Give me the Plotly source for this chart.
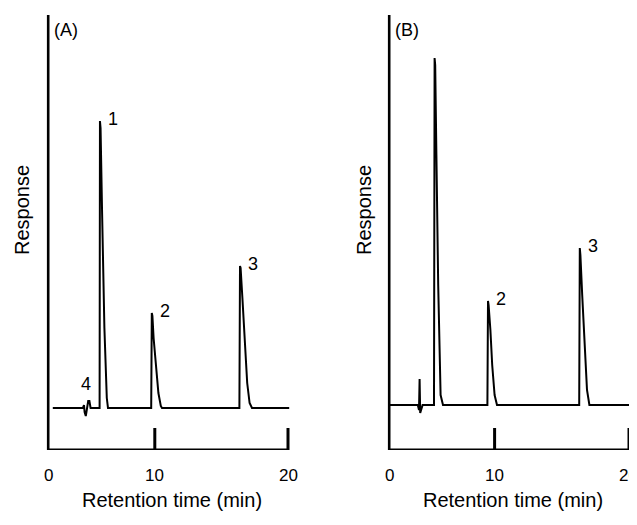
import plotly.graph_objects as go

W, H = 637, 525

# Panel A chromatogram (time in min, response in arbitrary units above baseline)
time_a = [0.4, 2.9, 3.0, 3.05, 3.15, 3.25, 3.35, 3.45, 3.55, 3.65, 3.75,
          4.3, 4.33, 4.38, 4.5, 4.7, 4.9, 5.0,
          8.6, 8.65, 8.7, 8.8, 9.0, 9.2, 9.4, 9.5,
          15.95, 16.0, 16.05, 16.2, 16.4, 16.6, 16.8, 17.0, 20.1]
resp_a = [0, 0, 3, -4, -8, 2, 7, 7, 0, 0, 0,
          0, 287, 280, 200, 80, 10, 0,
          0, 95, 92, 70, 40, 15, 2, 0,
          0, 142, 140, 110, 60, 25, 5, 0, 0]

# Panel B chromatogram
time_b = [0, 2.4, 2.5, 2.55, 2.6, 2.7, 2.8,
          3.75, 3.8, 3.85, 3.95, 4.1, 4.3, 4.5,
          8.2, 8.25, 8.3, 8.45, 8.6, 8.8, 9.0,
          15.85, 15.9, 15.95, 16.1, 16.3, 16.5, 16.7, 20.7]
resp_b = [0, 0, -5, 26, -8, -3, 0,
          0, 347, 340, 250, 120, 10, 0,
          0, 104, 100, 75, 40, 10, 0,
          0, 157, 150, 110, 60, 15, 0, 0]

peak_labels_a = [("1", 4.33, 287), ("2", 8.7, 95), ("3", 16.0, 142), ("4", 2.1, 22)]
peak_labels_b = [("2", 8.25, 104), ("3", 15.9, 157)]
tick_labels = ["0", "10", "20"]
tick_pos_a = [0, 8.9, 20]
tick_pos_b = [0, 8.8, 20]

FONT = "Liberation Sans, Arial, sans-serif"
OFF = 8  # page margin around the figure


def px(x):
    return (x - OFF) / W


def py(y):
    return 1 - (y - OFF) / H


def data_px(t, x0, x20):
    return x0 + (x20 - x0) * t / 20


fig = go.Figure()
fig.add_trace(go.Scatter(x=time_a, y=resp_a, mode="lines", xaxis="x", yaxis="y",
                         line=dict(color="black", width=2), showlegend=False))
fig.add_trace(go.Scatter(x=time_b, y=resp_b, mode="lines", xaxis="x2", yaxis="y2",
                         line=dict(color="black", width=2), showlegend=False))

hidden = dict(showgrid=False, zeroline=False, showticklabels=False, ticks="", showline=False)
fig.update_layout(
    width=W, height=H, margin=dict(l=0, r=0, t=0, b=0),
    plot_bgcolor="white", paper_bgcolor="white",
    font=dict(family=FONT, size=16, color="black"),
    xaxis=dict(range=[-0.1, 20.3], domain=[px(46.8), px(291.6)], **hidden),
    yaxis=dict(range=[-42, 393], domain=[py(450), py(15)], **hidden),
    xaxis2=dict(range=[-0.1, 20.7], domain=[px(387.8), px(637.4)], anchor="y2", **hidden),
    yaxis2=dict(range=[-45, 390], domain=[py(450), py(15)], anchor="x2", **hidden),
)

shapes = []
annots = []
for xr, yr, ybot, ytop, ticks, labels, tag, x0, x20 in [
    ("x", "y", -42, 393, tick_pos_a, peak_labels_a, "(A)", 48, 288),
    ("x2", "y2", -45, 390, tick_pos_b, peak_labels_b, "(B)", 389, 628),
]:
    line = dict(color="black", width=3)
    shapes.append(dict(type="line", xref=xr, yref=yr, x0=0, x1=0, y0=ybot, y1=ytop, line=line))
    shapes.append(dict(type="line", xref=xr, yref=yr, x0=0, x1=20, y0=ybot, y1=ybot, line=line))
    for t in ticks[1:]:
        shapes.append(dict(type="line", xref=xr, yref=yr, x0=t, x1=t, y0=ybot, y1=ybot + 22, line=line))
    for t, lab in zip(ticks, tick_labels):
        annots.append(dict(x=px(data_px(t, x0, x20)), y=py(487), xref="paper", yref="paper",
                           text=lab, showarrow=False, xanchor="center", font=dict(size=17)))
    annots.append(dict(x=px(data_px(10, x0, x20) + 4), y=py(513), xref="paper", yref="paper",
                       text="Retention time (min)", showarrow=False, xanchor="center",
                       font=dict(size=20)))
    annots.append(dict(x=0.3, y=ytop - 15, xref=xr, yref=yr, text=tag, showarrow=False,
                       xanchor="left", font=dict(size=18)))
    for lab, t, r in labels:
        annots.append(dict(x=t + 0.5, y=r + 2, xref=xr, yref=yr, text=lab, showarrow=False,
                           xanchor="left", yanchor="middle", font=dict(size=18)))

for xr in (22, 364):
    annots.append(dict(x=px(xr), y=py(210), xref="paper", yref="paper", text="Response",
                       textangle=-90, showarrow=False, xanchor="center", yanchor="middle",
                       font=dict(size=20)))

fig.update_layout(shapes=shapes, annotations=annots)
fig.write_html("out.html")
